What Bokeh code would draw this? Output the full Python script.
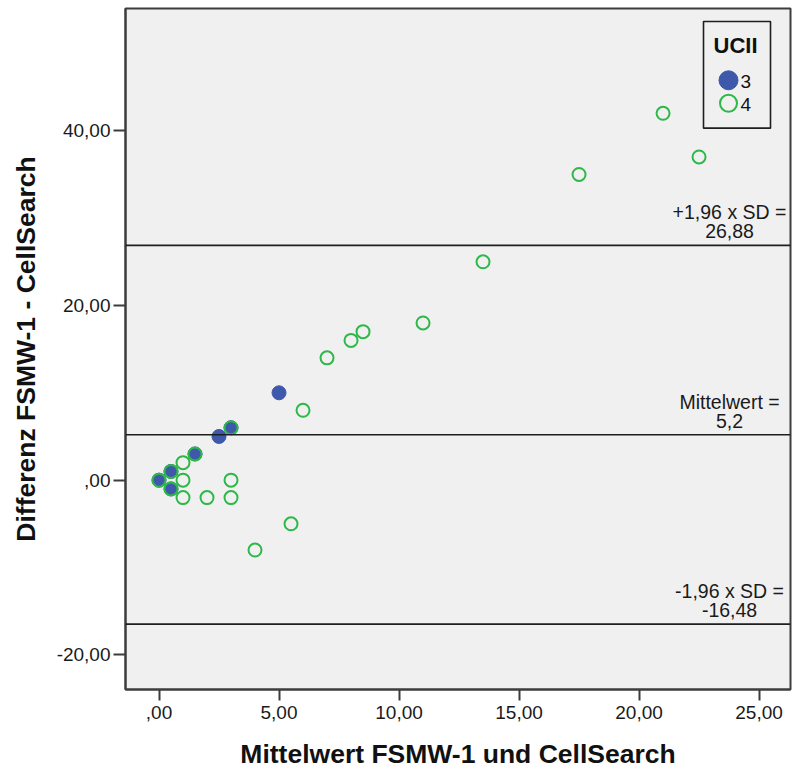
from bokeh.plotting import figure
from bokeh.models import Range1d, Span, FixedTicker
from bokeh.core.properties import value
from bokeh.embed import file_html
from bokeh.resources import INLINE

# ---- data ----
ucii3_x = [0, 0.5, 0.5, 1.5, 2.5, 3, 5]
ucii3_y = [0, 1, -1, 3, 5, 6, 10]
ucii4_x = [0, 0.5, 0.5, 1, 1, 1, 1.5, 2, 3, 3, 3, 4, 5.5, 6, 7, 8, 8.5, 11, 13.5, 17.5, 21, 22.5]
ucii4_y = [0, 1, -1, 2, 0, -2, 3, -2, 0, -2, 6, -8, -5, 8, 14, 16, 17, 18, 25, 35, 42, 37]

line_values = [26.88, 5.2, -16.48]
line_labels_top = ["+1,96 x SD =", "Mittelwert =", "-1,96 x SD ="]
line_labels_bottom = ["26,88", "5,2", "-16,48"]

x_ticks = [0, 5, 10, 15, 20, 25]
x_tick_labels = [",00", "5,00", "10,00", "15,00", "20,00", "25,00"]
y_ticks = [-20, 0, 20, 40]
y_tick_labels = ["-20,00", ",00", "20,00", "40,00"]

legend_title = "UCII"
group_labels = ["3", "4"]

BLUE = "#3e58ac"
GREEN = "#2eb848"
FRAME = "#3c3c3c"
FONT = "Liberation Sans"

FRAME_W, FRAME_H = 665, 683

p = figure(width=792, height=771,
           x_range=Range1d(-1.396, 26.31), y_range=Range1d(-23.97, 54.0),
           output_backend="svg", toolbar_location=None,
           min_border_left=125, min_border_right=2, min_border_top=8, min_border_bottom=80,
           background_fill_color="#f0f0f0", border_fill_color="white")
# pixel-based helper ranges for the legend box (frame pixels, origin top-left)
p.extra_x_ranges = {"px": Range1d(0, FRAME_W)}
p.extra_y_ranges = {"px": Range1d(FRAME_H, 0)}

p.xgrid.visible = False
p.ygrid.visible = False
p.outline_line_color = FRAME
p.outline_line_width = 2

for ax in (p.xaxis[0], p.yaxis[0]):
    ax.axis_line_color = FRAME
    ax.axis_line_width = 2
    ax.major_tick_line_color = FRAME
    ax.major_tick_line_width = 2
    ax.minor_tick_line_color = None
    ax.major_tick_in = 0
    ax.major_label_text_font = FONT
    ax.major_label_text_font_size = "19px"
    ax.major_label_text_color = "#1a1a1a"
    ax.axis_label_text_font = FONT
    ax.axis_label_text_font_style = "bold"
    ax.axis_label_text_font_size = "26.5px"
    ax.axis_label_text_color = "#111111"

p.xaxis.ticker = FixedTicker(ticks=x_ticks)
p.xaxis.major_label_overrides = {t: l for t, l in zip(x_ticks, x_tick_labels)}
p.yaxis.ticker = FixedTicker(ticks=y_ticks)
p.yaxis.major_label_overrides = {t: l for t, l in zip(y_ticks, y_tick_labels)}
p.xaxis.major_tick_out = 11
p.yaxis.major_tick_out = 12
p.xaxis.major_label_standoff = 5
p.yaxis.major_label_standoff = 3
p.xaxis.axis_label = "Mittelwert FSMW-1 und CellSearch"
p.yaxis.axis_label = "Differenz FSMW-1 - CellSearch"
p.xaxis.axis_label_standoff = 17
p.yaxis.axis_label_standoff = 13

for v in line_values:
    p.add_layout(Span(location=v, dimension="width", line_color="#1e1e1e", line_width=1.6))

label_x = [23.77] * len(line_values)
p.text(x=label_x, y=line_values, text=line_labels_top, text_align="center",
       text_baseline="middle", y_offset=-33, text_font=value(FONT),
       text_font_size="19.5px", text_color="#1a1a1a")
p.text(x=label_x, y=line_values, text=line_labels_bottom, text_align="center",
       text_baseline="middle", y_offset=-14, text_font=value(FONT),
       text_font_size="19.5px", text_color="#1a1a1a")

p.scatter(ucii3_x, ucii3_y, marker="circle", size=14, fill_color=BLUE, line_color=BLUE)
p.scatter(ucii4_x, ucii4_y, marker="circle", size=13, fill_color=None,
          line_color=GREEN, line_width=2)

# ---- legend (drawn in frame-pixel coordinates) ----
p.quad(left=[578], right=[645], top=[13], bottom=[120], x_range_name="px", y_range_name="px",
       fill_color="#f0f0f0", line_color="#1e1e1e", line_width=1.6)
p.text(x=[610], y=[37], text=[legend_title], x_range_name="px", y_range_name="px",
       text_align="center", text_baseline="middle", text_font=value(FONT),
       text_font_style="bold", text_font_size="22px", text_color="#111111")
p.scatter(x=[603], y=[72], x_range_name="px", y_range_name="px", marker="circle",
          size=19, fill_color=BLUE, line_color=BLUE)
p.scatter(x=[603], y=[95], x_range_name="px", y_range_name="px", marker="circle",
          size=17, fill_color=None, line_color=GREEN, line_width=2)
p.text(x=[615, 615], y=[73, 96], text=group_labels, x_range_name="px", y_range_name="px",
       text_align="left", text_baseline="middle", text_font=value(FONT),
       text_font_size="19px", text_color="#111111")

open("out.html", "w").write(file_html(p, INLINE))
